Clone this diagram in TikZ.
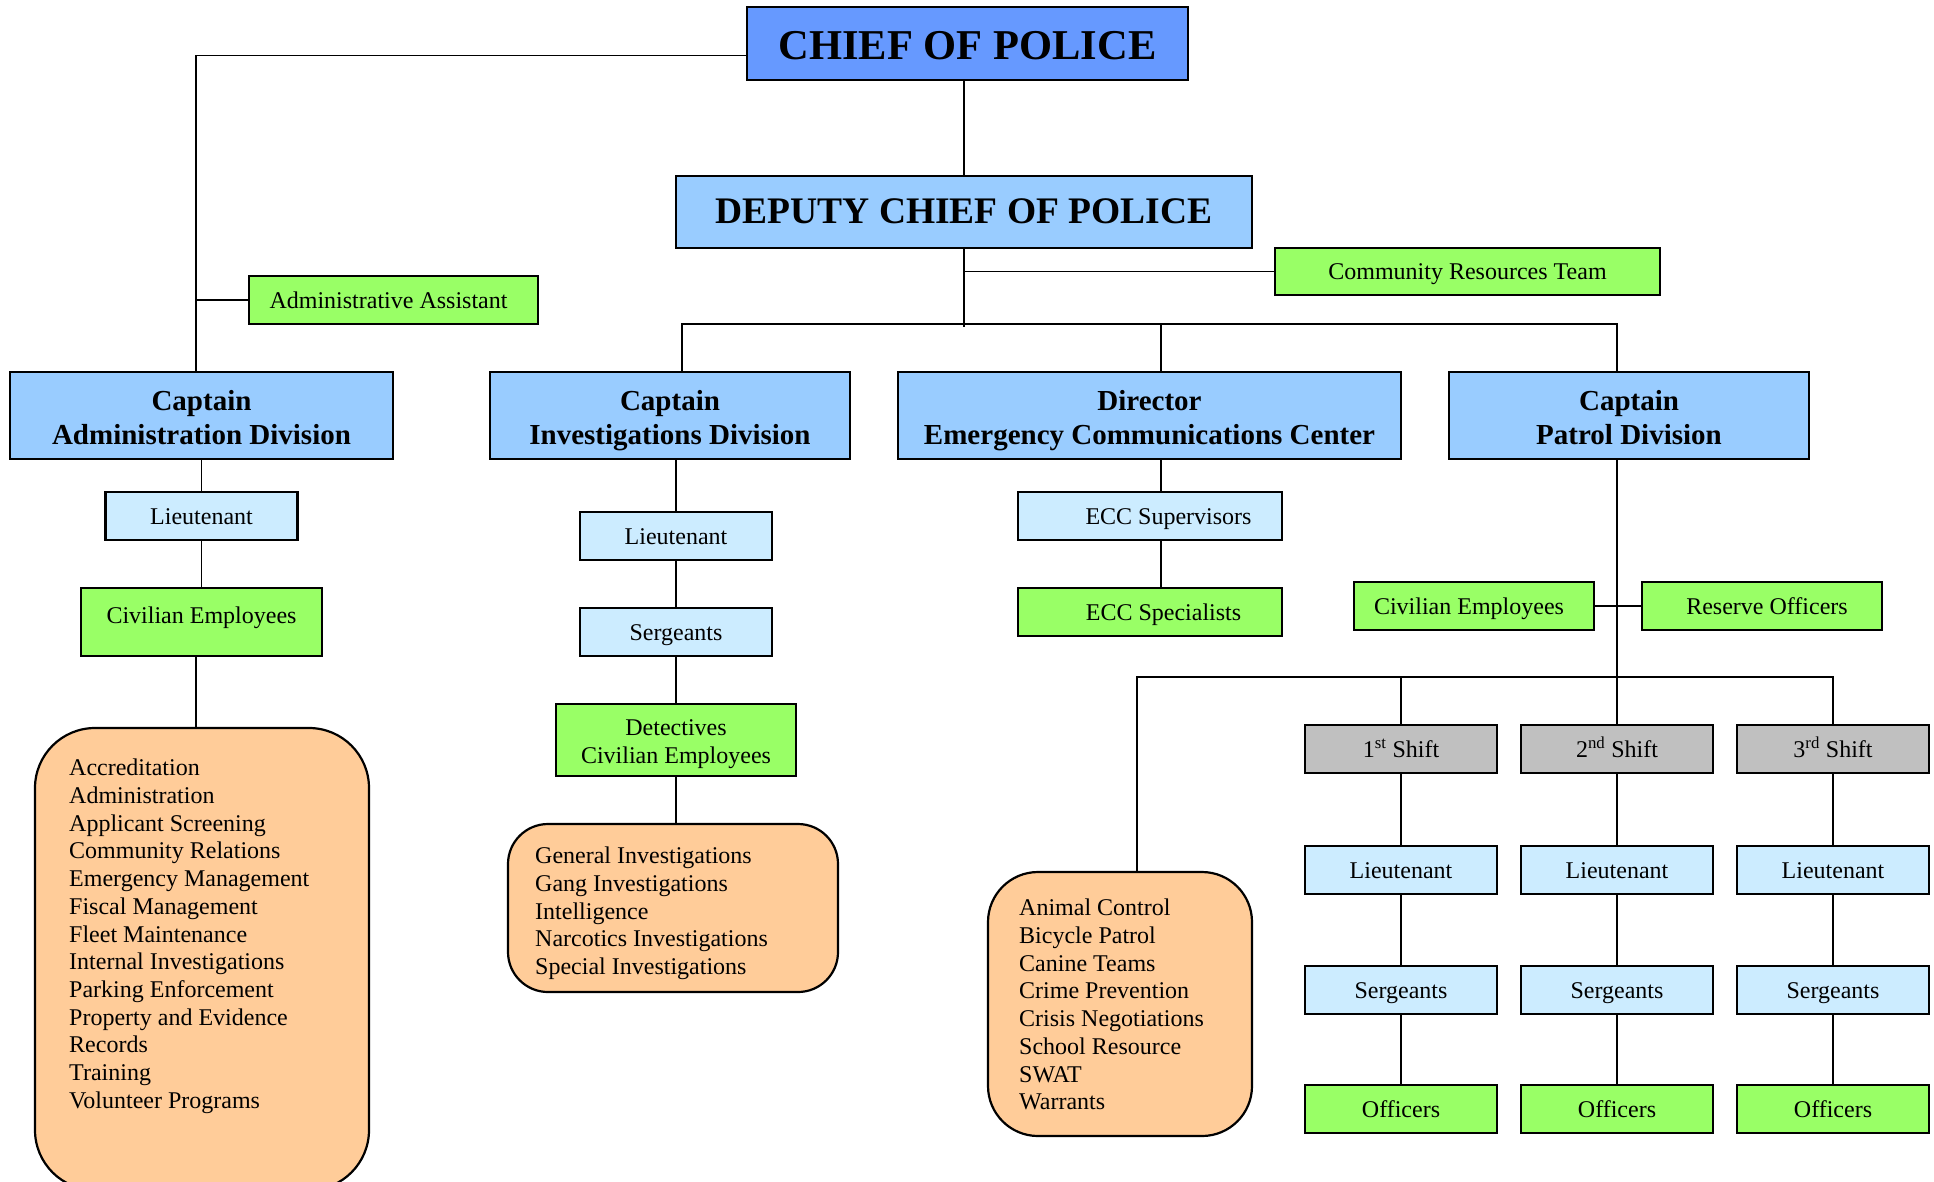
\documentclass[tikz,border=0pt]{standalone}
\usepackage{fontspec}
\setmainfont{Liberation Serif}
\definecolor{chiefblue}{HTML}{6699FF}
\definecolor{capblue}{HTML}{99CCFF}
\definecolor{ltblue}{HTML}{CCECFF}
\definecolor{lgreen}{HTML}{99FF66}
\definecolor{shiftgray}{HTML}{C0C0C0}
\definecolor{peach}{HTML}{FFCC99}
\begin{document}
\begin{tikzpicture}[x=1pt,y=-1pt,
	basebox/.style={draw,line width=2.2pt,inner sep=0pt,align=center},
	orgbox/.style={basebox,text height=16.5pt,text depth=0pt,font=\fontsize{24}{27.6}\selectfont},
	capbox/.style={basebox,fill=capblue,minimum height=87pt,font=\fontsize{29}{34}\selectfont\bfseries},
	smallbox/.style={orgbox,minimum width=192pt,minimum height=48pt},
	listbox/.style={draw,line width=2.2pt,fill=peach},
	listtext/.style={anchor=north west,inner sep=0pt,align=left,font=\fontsize{24}{27.7}\selectfont},
	link/.style={line width=1.8pt}]
	\useasboundingbox (0,0) rectangle (1934,1181);
	\node [basebox,fill=chiefblue,line width=2.6pt,minimum width=441pt,minimum height=73pt,text height=31pt,text depth=0pt,font=\fontsize{42.5}{48}\selectfont\bfseries] (chief) at (967.5,43.5) {CHIEF OF POLICE};
	\node [basebox,fill=capblue,line width=2.6pt,minimum width=576pt,minimum height=72pt,text height=22pt,text depth=0pt,font=\fontsize{37.5}{42}\selectfont\bfseries] (deputy) at (964,212) {DEPUTY CHIEF OF POLICE};
	\node [orgbox,fill=lgreen,minimum width=385pt,minimum height=47pt] (community) at (1467.5,271.5) {Community Resources Team};
	\node [orgbox,fill=lgreen,minimum width=289pt,minimum height=48pt] (admasst) at (393.5,300) {Administrative Assistant\hspace{10pt}};
	\node [capbox,minimum width=383pt] (capadm) at (201.5,415.5) {\rule{0pt}{24pt}Captain\\\smash{Administration Division}};
	\node [capbox,minimum width=360pt] (capinv) at (670,415.5) {\rule{0pt}{24pt}Captain\\\smash{Investigations Division}};
	\node [capbox,minimum width=503pt] (dirctr) at (1149.5,415.5) {\rule{0pt}{24pt}Director\\\smash{Emergency Communications Center}};
	\node [capbox,minimum width=360pt] (cappat) at (1629,415.5) {\rule{0pt}{24pt}Captain\\\smash{Patrol Division}};
	\node [smallbox,fill=ltblue] (admlt) at (201.5,516) {Lieutenant};
	\node [orgbox,fill=lgreen,minimum width=241pt,minimum height=68pt,text height=17pt,text depth=15pt] (admciv) at (201.5,622) {Civilian Employees};
	\node [listbox,rounded corners=60pt,minimum width=334pt,minimum height=462pt] (admlist) at (202,959) {};
	\node [listtext] (admtext) at (69,759) {Accreditation\\Administration\\Applicant Screening\\Community Relations\\Emergency Management\\Fiscal Management\\Fleet Maintenance\\Internal Investigations\\Parking Enforcement\\Property and Evidence\\Records\\Training\\Volunteer Programs};
	\node [smallbox,fill=ltblue] (invlt) at (676,536) {Lieutenant};
	\node [smallbox,fill=ltblue] (invsgt) at (676,632) {Sergeants};
	\node [basebox,fill=lgreen,minimum width=240pt,minimum height=72pt,font=\fontsize{24}{27.6}\selectfont] (invdet) at (676,740) {\rule{0pt}{19pt}Detectives\\\smash{Civilian Employees}};
	\node [listbox,rounded corners=40pt,minimum width=330pt,minimum height=168pt] (invlist) at (673,908) {};
	\node [listtext] (invtext) at (535,847) {General Investigations\\Gang Investigations\\Intelligence\\Narcotics Investigations\\Special Investigations};
	\node [orgbox,fill=ltblue,minimum width=264pt,minimum height=48pt] (eccsup) at (1150,516) {\hspace{37pt}ECC Supervisors};
	\node [orgbox,fill=lgreen,minimum width=264pt,minimum height=48pt] (eccspec) at (1150,612) {\hspace{27pt}ECC Specialists};
	\node [orgbox,fill=lgreen,minimum width=240pt,minimum height=48pt] (pciv) at (1474,606) {Civilian Employees\hspace{10pt}};
	\node [orgbox,fill=lgreen,minimum width=240pt,minimum height=48pt] (pres) at (1762,606) {\hspace{10pt}Reserve Officers};
	\node [smallbox,fill=shiftgray] (shift1) at (1401,749) {1\textsuperscript{st} Shift};
	\node [smallbox,fill=shiftgray] (shift2) at (1617,749) {2\textsuperscript{nd} Shift};
	\node [smallbox,fill=shiftgray] (shift3) at (1833,749) {3\textsuperscript{rd} Shift};
	\node [smallbox,fill=ltblue] (lt1) at (1401,870) {Lieutenant};
	\node [smallbox,fill=ltblue] (lt2) at (1617,870) {Lieutenant};
	\node [smallbox,fill=ltblue] (lt3) at (1833,870) {Lieutenant};
	\node [smallbox,fill=ltblue] (sgt1) at (1401,990) {Sergeants};
	\node [smallbox,fill=ltblue] (sgt2) at (1617,990) {Sergeants};
	\node [smallbox,fill=ltblue] (sgt3) at (1833,990) {Sergeants};
	\node [smallbox,fill=lgreen] (off1) at (1401,1109) {Officers};
	\node [smallbox,fill=lgreen] (off2) at (1617,1109) {Officers};
	\node [smallbox,fill=lgreen] (off3) at (1833,1109) {Officers};
	\node [listbox,rounded corners=50pt,minimum width=264pt,minimum height=264pt] (patlist) at (1120,1004) {};
	\node [listtext] (pattext) at (1019,899) {Animal Control\\Bicycle Patrol\\Canine Teams\\Crime Prevention\\Crisis Negotiations\\School Resource\\SWAT\\Warrants};
	\coordinate (spine) at (196,372);
	\coordinate (bus) at (964,324);
	\coordinate (invdrop) at (682,372);
	\coordinate (dirdrop) at (1161,372);
	\coordinate (patdrop) at (1617,372);
	\coordinate (pbus) at (1617,677);
	\coordinate (pdrop) at (1137,872);
	\draw [link] ([yshift=-12pt]chief.west) -| (spine);
	\draw [link] (admasst.west) -- (admasst.west -| spine);
	\draw [link] (chief.south -| deputy.north) -- (deputy.north);
	\draw [link] (community.west) -- (community.west -| deputy.south);
	\draw [link] (deputy.south) -- ([yshift=-3pt]bus);
	\draw [link] (invdrop) |- (bus) -| (patdrop);
	\draw [link] (dirdrop) -- (dirdrop |- bus);
	\draw [link] (capadm.south) -- (admlt.north);
	\draw [link] (admlt.south) -- (admciv.north);
	\draw [link] (admciv.south -| spine) -- (admlist.north -| spine);
	\draw [link] (capinv.south -| invlt.north) -- (invlt.north);
	\draw [link] (invlt.south) -- (invsgt.north);
	\draw [link] (invsgt.south) -- (invdet.north);
	\draw [link] (invdet.south) -- (invlist.north -| invdet.south);
	\draw [link] (dirdrop |- dirctr.south) -- (dirdrop |- eccsup.north);
	\draw [link] (dirdrop |- eccsup.south) -- (dirdrop |- eccspec.north);
	\draw [link] (patdrop |- cappat.south) -- (shift2.north);
	\draw [link] (pciv.east) -- (pres.west);
	\draw [link] (pdrop) |- (pbus) -| (shift3.north);
	\draw [link] (shift1.north) -- (shift1.north |- pbus);
	\draw [link] (shift1.south) -- (lt1.north);
	\draw [link] (shift2.south) -- (lt2.north);
	\draw [link] (shift3.south) -- (lt3.north);
	\draw [link] (lt1.south) -- (sgt1.north);
	\draw [link] (lt2.south) -- (sgt2.north);
	\draw [link] (lt3.south) -- (sgt3.north);
	\draw [link] (sgt1.south) -- (off1.north);
	\draw [link] (sgt2.south) -- (off2.north);
	\draw [link] (sgt3.south) -- (off3.north);
\end{tikzpicture}
\end{document}
